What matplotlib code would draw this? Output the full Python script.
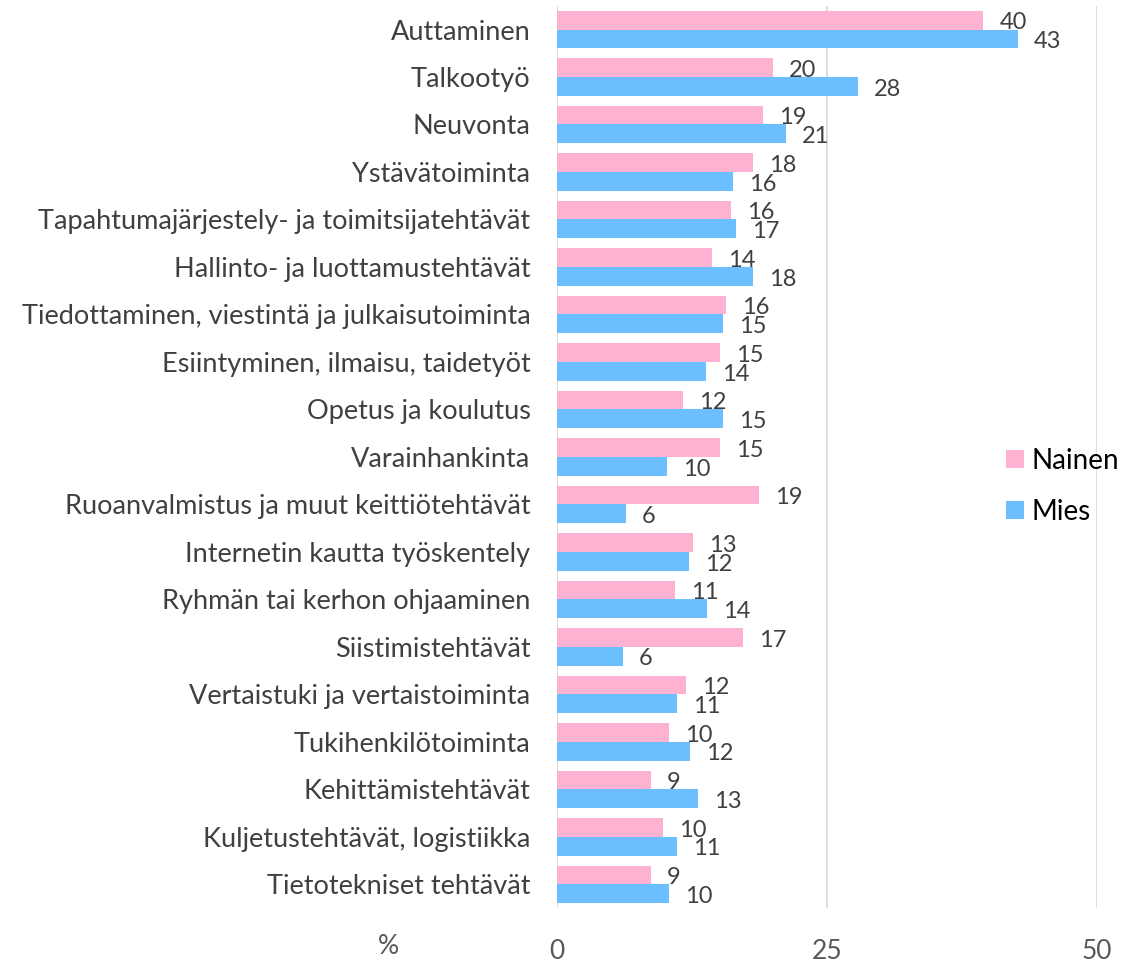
import matplotlib.pyplot as plt
import numpy as np

# categories, top to bottom
categories = [
    'Auttaminen', 'Talkootyö', 'Neuvonta', 'Ystävätoiminta',
    'Tapahtumajärjestely- ja toimitsijatehtävät', 'Hallinto- ja luottamustehtävät',
    'Tiedottaminen, viestintä ja julkaisutoiminta', 'Esiintyminen, ilmaisu, taidetyöt',
    'Opetus ja koulutus', 'Varainhankinta', 'Ruoanvalmistus ja muut keittiötehtävät',
    'Internetin kautta työskentely', 'Ryhmän tai kerhon ohjaaminen', 'Siistimistehtävät',
    'Vertaistuki ja vertaistoiminta', 'Tukihenkilötoiminta', 'Kehittämistehtävät',
    'Kuljetustehtävät, logistiikka', 'Tietotekniset tehtävät',
]
nainen = [39.5, 20.0, 19.1, 18.2, 16.1, 14.4, 15.7, 15.1, 11.7, 15.1,
          18.7, 12.6, 10.9, 17.2, 12.0, 10.4, 8.7, 9.8, 8.7]
mies = [42.7, 27.9, 21.2, 16.3, 16.6, 18.2, 15.4, 13.8, 15.4, 10.2,
        6.4, 12.2, 13.9, 6.1, 11.1, 12.3, 13.1, 11.1, 10.4]
xticks = [0, 25, 50]

pink = '#FDB2D2'
blue = '#6BBFFF'
font = 'Lato'

fig = plt.figure(figsize=(11.25, 9.63), dpi=100)
ax = fig.add_axes([0.495, 0.0571, 0.48, 0.9369])

y = np.arange(len(categories))
h = 0.395
b1 = ax.barh(y - h / 2, nainen, height=h, color=pink, label='Nainen', zorder=3)
b2 = ax.barh(y + h / 2, mies, height=h, color=blue, label='Mies', zorder=3)

for bars, vals in ((b1, nainen), (b2, mies)):
    for bar, v in zip(bars, vals):
        ax.annotate('%d' % round(v), (bar.get_width(), bar.get_y() + bar.get_height() / 2),
                    xytext=(11.5, -2), textcoords='offset points', va='center', ha='left',
                    fontsize=17, color='#404040', family=font)

ax.set_ylim(len(categories) - 0.5, -0.5)
ax.set_xlim(0, 50)
ax.set_yticks(y)
ax.set_yticklabels(categories, fontsize=19.5, color='#404040', family=font)
ax.set_xticks(xticks)
ax.set_xticklabels([str(t) for t in xticks], fontsize=19, color='#595959', family=font)
ax.tick_params(axis='y', length=0, pad=19)
ax.tick_params(axis='x', length=0, pad=22)
for s in ax.spines.values():
    s.set_visible(False)
ax.grid(axis='x', color='#D9D9D9', linewidth=1.3, zorder=0)

fig.text(0.345, 0.017, '%', fontsize=19, color='#595959', family=font, ha='center', va='center')

fig.legend(handles=[b1, b2], loc='center left', bbox_to_anchor=(0.884, 0.495),
           frameon=False, prop={'family': font, 'size': 20}, handlelength=0.65,
           handleheight=0.65, handletextpad=0.3, labelspacing=0.9, borderaxespad=0)

fig.savefig('out.png', dpi=100)
